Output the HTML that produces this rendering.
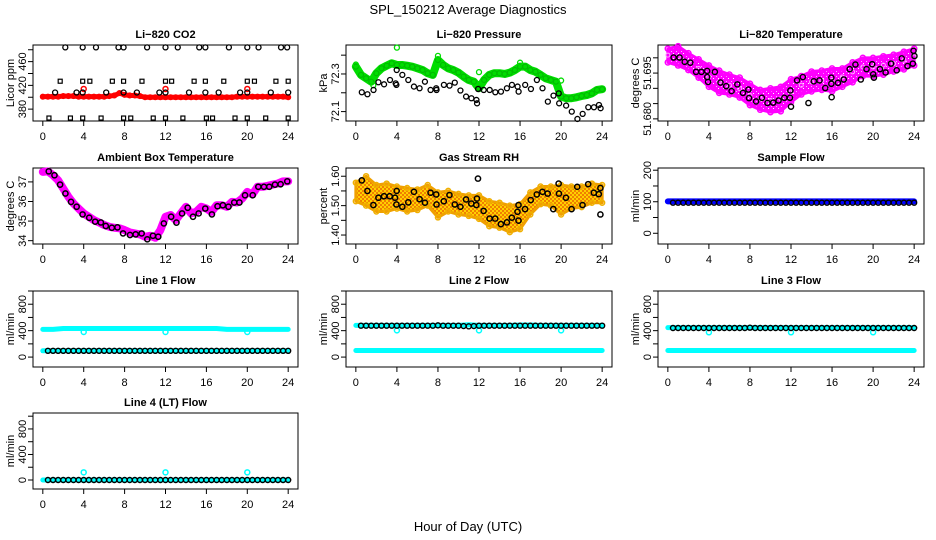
<!DOCTYPE html>
<html><head><meta charset="utf-8"><style>
html,body{margin:0;padding:0;background:#fff;}
svg{display:block;font-family:"Liberation Sans",sans-serif;}
</style></head><body>
<svg id="chart" width="936" height="540" viewBox="0 0 936 540" xmlns="http://www.w3.org/2000/svg">
<defs>
<pattern id="rhPat" width="4" height="4" patternUnits="userSpaceOnUse"><rect width="4" height="4" fill="#ffd000"/><rect x="0" y="0" width="2" height="2" fill="#f08000"/><rect x="2" y="2" width="2" height="2" fill="#f08000"/></pattern>
<pattern id="magPat" width="5" height="5" patternUnits="userSpaceOnUse"><rect width="5" height="5" fill="#ff00ff"/><rect x="1" y="1" width="1" height="1" fill="#ffb0ff"/><rect x="3" y="3" width="1" height="1" fill="#ffffff"/></pattern>
</defs>
<text x="468" y="14" text-anchor="middle" font-size="13">SPL_150212  Average Diagnostics</text>
<text x="468" y="531" text-anchor="middle" font-size="13">Hour of Day (UTC)</text>
</svg>
<script>
const HALF=[0,0.5,1,1.5,2,2.5,3,3.5,4,4.5,5,5.5,6,6.5,7,7.5,8,8.5,9,9.5,10,10.5,11,11.5,12,12.5,13,13.5,14,14.5,15,15.5,16,16.5,17,17.5,18,18.5,19,19.5,20,20.5,21,21.5,22,22.5,23,23.5,24];
const HOURS=[0,1,2,3,4,5,6,7,8,9,10,11,12,13,14,15,16,17,18,19,20,21,22,23,24];
const FLOWX=[0.5,1,1.5,2,2.5,3,3.5,4,4.5,5,5.5,6,6.5,7,7.5,8,8.5,9,9.5,10,10.5,11,11.5,12,12.5,13,13.5,14,14.5,15,15.5,16,16.5,17,17.5,18,18.5,19,19.5,20,20.5,21,21.5,22,22.5,23,23.5,24];
const xTicks=[0,4,8,12,16,20,24];

// Li-820 CO2
const co2Red=[401,401,401,401,402,402,402,401,401,401,401,401,401,402,403,407,404,403,403,402,400,400,400,400,400,400,400,400,400,400,400,400,400,400,400,400,400,400,401,401,401,401,401,401,401,401,401,401,400];
const co2RedOut=[[4,414],[12,414],[20,414]];
const co2TopX=[2.2,3.9,5.2,7.4,7.9,10.2,12.0,13.2,15.3,15.9,18.2,20.0,21.1,23.3,23.9];
const co2TopY=[484,484,484,484,484,484,484,484,484,484,484,484,484,484,484];
const co2MidX=[1.2,3.3,3.9,6.2,7.9,9.2,11.4,12.0,14.3,15.9,17.2,19.3,20.0,22.3,24.0];
const co2MidY=[408,408,408,408,408,408,408,408,408,408,408,408,408,408,408];
const co2SqX=[1.7,3.9,4.6,6.8,7.9,9.7,12.0,12.6,14.8,15.9,17.7,20.0,20.7,22.8,24.0];
const co2SqY=[427,427,427,427,427,427,427,427,427,427,427,427,427,427,427];
const co2LowX=[0.6,2.7,3.9,5.7,7.9,8.6,10.8,12.0,13.7,16.0,16.6,18.8,20.0,21.8,24.0];
const co2LowY=[365,365,365,365,365,365,365,365,365,365,365,365,365,365,365];

// Li-820 Pressure
const presGreen=[72.339,72.295,72.277,72.259,72.304,72.330,72.344,72.357,72.348,72.348,72.344,72.339,72.330,72.321,72.304,72.295,72.374,72.348,72.330,72.321,72.307,72.286,72.268,72.259,72.224,72.268,72.295,72.304,72.304,72.300,72.307,72.321,72.339,72.339,72.321,72.312,72.295,72.277,72.268,72.259,72.180,72.171,72.171,72.176,72.183,72.188,72.197,72.215,72.219];
const presGreenOut=[[0,72.35],[1.7,72.24],[4,72.44],[8,72.396],[12,72.31],[16,72.36],[20,72.265]];
const presBlack=[[0.58,72.203],[1.13,72.192],[1.72,72.215],[2.20,72.256],[2.75,72.245],[3.33,72.268],[3.88,72.250],[3.95,72.242],[3.98,72.321],[4.53,72.295],[5.11,72.268],[5.66,72.233],[6.21,72.224],[6.73,72.259],[7.28,72.215],[7.83,72.224],[7.86,72.215],[8.58,72.242],[9.13,72.238],[9.64,72.254],[10.19,72.212],[10.74,72.180],[11.26,72.171],[11.75,72.162],[11.81,72.144],[11.91,72.220],[12.46,72.215],[13.04,72.215],[13.59,72.203],[14.14,72.206],[14.72,72.224],[15.21,72.242],[15.76,72.233],[15.86,72.206],[16.50,72.242],[17.06,72.220],[17.64,72.268],[18.19,72.224],[18.71,72.153],[19.26,72.185],[19.77,72.197],[19.81,72.144],[20.49,72.132],[21.04,72.100],[21.59,72.061],[22.10,72.088],[22.65,72.123],[23.20,72.123],[23.69,72.135],[23.85,72.118]];

// Li-820 Temperature
const ltMid=[51.7009,51.7003,51.6987,51.6965,51.6937,51.6921,51.6910,51.6899,51.6877,51.6866,51.6860,51.6866,51.6888,51.6910,51.6921,51.6926,51.6926,51.6937,51.6954,51.6970,51.6970,51.6976,51.6981,51.6992,51.7003];
const ltHi=[51.7030,51.7038,51.7015,51.6995,51.6975,51.6958,51.6945,51.6935,51.6915,51.6895,51.6900,51.6905,51.6930,51.6940,51.6955,51.6958,51.6965,51.6965,51.6985,51.7000,51.7000,51.7005,51.7010,51.7020,51.7030];
const ltLo=[51.6985,51.6975,51.6960,51.6935,51.6905,51.6885,51.6880,51.6870,51.6845,51.6830,51.6822,51.6825,51.6855,51.6880,51.6890,51.6895,51.6890,51.6905,51.6920,51.6940,51.6940,51.6945,51.6955,51.6962,51.6975];
const ltBlack=[[0.56,51.7001],[1.14,51.7001],[1.64,51.6987],[2.19,51.6984],[2.75,51.6954],[3.27,51.6954],[3.83,51.6957],[3.83,51.6937],[3.92,51.6921],[4.58,51.6954],[5.13,51.6919],[5.69,51.6907],[6.21,51.6891],[6.77,51.6913],[7.32,51.6885],[7.85,51.6896],[7.91,51.6868],[8.60,51.6857],[9.16,51.6869],[9.71,51.6852],[10.27,51.6853],[10.79,51.6860],[11.35,51.6869],[11.90,51.6869],[11.94,51.6893],[12.00,51.6840],[12.59,51.6926],[13.15,51.6937],[13.70,51.6852],[14.22,51.6923],[14.78,51.6926],[15.34,51.6901],[15.93,51.6935],[15.93,51.6915],[15.96,51.6871],[16.58,51.6918],[17.14,51.6929],[17.72,51.6963],[18.28,51.6978],[18.80,51.6929],[19.36,51.6963],[19.91,51.6979],[20.01,51.6946],[20.08,51.6935],[20.67,51.6963],[21.22,51.6952],[21.75,51.6981],[22.30,51.6959],[22.79,51.6998],[23.35,51.6973],[23.87,51.6981],[23.94,51.7023],[24.03,51.7006]];

// Ambient Box Temperature
const ambMag=[37.51,37.54,37.34,37.08,36.66,36.24,35.90,35.64,35.39,35.22,35.05,34.93,34.80,34.71,34.66,34.63,34.54,34.42,34.37,34.32,34.20,34.25,34.15,34.54,35.22,35.31,35.05,35.39,35.73,35.39,35.47,35.73,35.64,35.47,35.81,35.81,35.73,35.98,35.95,36.15,36.49,36.36,36.75,36.75,36.80,36.86,36.92,37.03,37.03];
const ambBlack=[[0.58,37.54],[1.14,37.34],[1.69,36.86],[2.21,36.41],[2.76,35.98],[3.31,35.73],[3.89,35.34],[4.54,35.17],[5.12,34.97],[5.68,34.93],[6.16,34.75],[6.75,34.66],[7.30,34.68],[7.85,34.37],[8.53,34.29],[9.08,34.32],[9.67,34.37],[10.22,34.07],[10.77,34.25],[11.29,34.20],[11.84,34.88],[12.55,35.22],[13.07,34.92],[13.62,35.39],[14.17,35.68],[14.69,35.22],[15.24,35.39],[15.89,35.64],[16.54,35.34],[17.09,35.76],[17.61,35.81],[18.16,35.73],[18.72,35.95],[19.23,35.95],[19.78,36.32],[20.53,36.32],[21.08,36.75],[21.63,36.75],[22.15,36.75],[22.71,36.86],[23.26,36.88],[23.91,37.03]];

// Gas Stream RH
const rhMid=[1.547,1.558,1.536,1.536,1.524,1.519,1.519,1.536,1.507,1.519,1.507,1.502,1.496,1.473,1.468,1.456,1.462,1.507,1.536,1.530,1.536,1.530,1.530,1.547,1.541];
const rhHi=[1.578,1.600,1.570,1.575,1.565,1.560,1.555,1.570,1.545,1.550,1.540,1.535,1.535,1.515,1.510,1.500,1.505,1.545,1.565,1.565,1.570,1.565,1.565,1.575,1.570];
const rhLo=[1.515,1.500,1.480,1.480,1.490,1.480,1.485,1.500,1.460,1.480,1.470,1.465,1.455,1.430,1.425,1.410,1.420,1.470,1.505,1.500,1.470,1.490,1.495,1.510,1.510];
const rhBlack=[[0.58,1.586],[1.13,1.550],[1.71,1.502],[2.20,1.527],[2.75,1.532],[3.30,1.532],[3.82,1.527],[3.95,1.504],[3.98,1.550],[4.53,1.496],[5.11,1.511],[5.66,1.547],[6.21,1.522],[6.73,1.510],[7.28,1.544],[7.83,1.538],[7.86,1.504],[8.57,1.515],[9.12,1.536],[9.64,1.504],[10.19,1.496],[10.74,1.521],[11.25,1.507],[11.74,1.502],[11.80,1.524],[11.90,1.592],[12.45,1.482],[13.03,1.456],[13.58,1.456],[14.13,1.437],[14.72,1.443],[15.20,1.459],[15.75,1.479],[15.85,1.449],[15.85,1.502],[16.49,1.488],[17.04,1.519],[17.63,1.538],[18.18,1.547],[18.69,1.541],[19.24,1.488],[19.76,1.575],[19.79,1.541],[20.47,1.527],[21.02,1.488],[21.57,1.564],[22.09,1.502],[22.64,1.573],[23.19,1.544],[23.67,1.539],[23.83,1.560],[23.83,1.470]];

// Flows
const sampleBlue=[101,101,101,101,101,101,101,101,101,101,101,101,101,101,101,101,101,101,101,101,101,101,101,101,101];
const sampleBlack=[97,97,97,97,97,97,97,97,97,97,97,97,97,97,97,97,97,97,97,97,97,97,97,97,97,97,97,97,97,97,97,97,97,97,97,97,97,97,97,97,97,97,97,97,97,97,97,97];
const l1CyanHi=[420,420,432,432,432,432,432,432,432,432,432,432,432,432,432,432,432,432,420,420,420,420,420,420,420];
const l1CyanLo=[95,95,95,95,95,95,95,95,95,95,95,95,95,95,95,95,95,95,95,95,95,95,95,95,95];
const l1Dips=[[4,380],[12,380],[20,380]];
const l1Black=[95,95,95,95,95,95,95,95,95,95,95,95,95,95,95,95,95,95,95,95,95,95,95,95,95,95,95,95,95,95,95,95,95,95,95,95,95,95,95,95,95,95,95,95,95,95,95,95];
const l2CyanHi=[480,480,480,480,480,480,480,480,480,480,480,490,480,480,480,480,485,485,480,480,480,480,480,480,480];
const l2CyanLo=[100,100,100,100,100,100,100,100,100,100,100,100,100,100,100,100,100,100,100,100,100,100,100,100,100];
const l2Dips=[[4,405],[12,405],[20,405]];
const l2Black=[475,475,475,475,475,475,475,475,475,475,475,475,475,475,475,480,475,475,475,475,470,465,470,475,475,475,475,475,475,475,475,475,475,475,475,475,475,475,475,475,475,475,475,475,475,475,475,475];
const l3CyanHi=[445,445,445,445,445,445,445,445,445,445,445,445,445,445,445,445,445,445,445,445,445,445,445,445,445];
const l3CyanLo=[100,100,100,100,100,100,100,100,100,100,100,100,100,100,100,100,100,100,100,100,100,100,100,100,100];
const l3Dips=[[4,375],[12,375],[20,375]];
const l3Black=[440,440,440,440,440,440,440,440,440,440,440,440,440,440,440,445,440,440,440,440,440,440,440,440,440,440,440,440,440,440,440,440,440,440,440,440,440,440,440,440,440,440,440,440,440,440,440,440];
const l4Cyan=[0,0,0,0,0,0,0,0,0,0,0,0,0,0,0,0,0,0,0,0,0,0,0,0,0];
const l4Spikes=[[4,120],[12,120],[20,120]];
const l4Black=[0,0,0,0,0,0,0,0,0,0,0,0,0,0,0,0,0,0,0,0,0,0,0,0,0,0,0,0,0,0,0,0,0,0,0,0,0,0,0,0,0,0,0,0,0,0,0,0];

const flowTicks=[0,200,400,600,800,1000];
const flowLabels=['0','400','800'];

const NS='http://www.w3.org/2000/svg';
const svg=document.getElementById('chart');
function mk(tag,attrs,parent){const e=document.createElementNS(NS,tag);for(const k in attrs)e.setAttribute(k,attrs[k]);(parent||svg).appendChild(e);return e;}

const COLS=[[33,298],[346,612],[658,924]];
const ROWS=[[45,121],[168,244],[291,367],[413,489]];

function panel(name,c,r,title,ylab,yb,yt,ticks,labels){
  const [L,R]=COLS[c],[T,B]=ROWS[r];
  const g=mk('g',{});
  
  
  const sx=h=>L+(h+0.96)/25.92*(R-L);
  const sy=v=>B-(v-yb)/(yt-yb)*(B-T);
  const box=mk('rect',{x:L,y:T,width:R-L,height:B-T,fill:'none',stroke:'#000','stroke-width':1},g);
  
  
  const t=mk('text',{x:(L+R)/2,y:T-7,'text-anchor':'middle','font-size':11,'font-weight':'bold'},g);
  t.textContent=title;
  
  
  const yl=mk('text',{x:0,y:0,'text-anchor':'middle','font-size':11,transform:`translate(${L-19},${(T+B)/2}) rotate(-90)`},g);
  yl.textContent=ylab;
  
  
  const xa=mk('g',{},g);
  
  
  xTicks.forEach(h=>{
    mk('line',{x1:sx(h),x2:sx(h),y1:B,y2:B+5,stroke:'#000'},xa);
    const tl=mk('text',{x:sx(h),y:B+19,'text-anchor':'middle','font-size':11},xa);
    tl.textContent=String(h);
    
    
  });
  const ya=mk('g',{},g);
  
  
  ticks.forEach(v=>{mk('line',{x1:L-5,x2:L,y1:sy(v),y2:sy(v),stroke:'#000'},ya);});
  labels.forEach(s=>{
    const tl=mk('text',{x:0,y:0,'text-anchor':'middle','font-size':11,transform:`translate(${L-7},${sy(parseFloat(s))}) rotate(-90)`},ya);
    tl.textContent=s;
    
    
  });
  const marks=mk('g',{},g);
  
  
  return {sx,sy,g:marks};
}
function circles(p,xs,ys,color,r,w,nm){
  const g=mk('g',{},p.g);
  
  
  xs.forEach((x,i)=>{mk('circle',{cx:p.sx(x),cy:p.sy(ys[i]),r:r,fill:'none',stroke:color,'stroke-width':w},g);});
}
function pts(p,arr,color,r,w,nm){circles(p,arr.map(a=>a[0]),arr.map(a=>a[1]),color,r,w,nm);}
function squares(p,xs,ys,color,nm){
  const g=mk('g',{},p.g);
  
  
  xs.forEach((x,i)=>{mk('rect',{x:p.sx(x)-2,y:p.sy(ys[i])-2,width:4,height:4,fill:'none',stroke:color,'stroke-width':1.2},g);});
}
function band(p,xs,ys,color,w,nm){
  const l=mk('polyline',{points:xs.map((x,i)=>p.sx(x)+','+p.sy(ys[i])).join(' '),fill:'none',stroke:color,'stroke-width':w,'stroke-linejoin':'round','stroke-linecap':'round'},p.g);
  
  
}
function cloud(p,xs,hi,lo,fill,stroke,nm){
  const up=xs.map((x,i)=>p.sx(x)+','+p.sy(hi[i]));
  const dn=xs.map((x,i)=>p.sx(x)+','+p.sy(lo[i])).reverse();
  const pg=mk('polygon',{points:up.concat(dn).join(' '),fill:fill,stroke:stroke,'stroke-width':3,'stroke-linejoin':'round'},p.g);
  
  
}

// Panel 1
let p=panel('co2',0,0,'Li\u2212820 CO2','Licor ppm',360,488,[380,400,420,440,460,480],['380','420','460']);
band(p,HALF,co2Red,'#ff0000',5,'co2-red-series');
circles(p,HALF,co2Red,'#ff0000',2.3,1.5,'co2-red-points');
pts(p,co2RedOut,'#ff0000',2.5,1.5,'co2-red-outliers');
circles(p,co2TopX,co2TopY,'#000',2.5,1.3,'co2-black-top');
circles(p,co2MidX,co2MidY,'#000',2.5,1.3,'co2-black-mid');
squares(p,co2SqX,co2SqY,'#000','co2-black-squares');
squares(p,co2LowX,co2LowY,'#000','co2-black-low');

// Panel 2
p=panel('pressure',1,0,'Li\u2212820 Pressure','kPa',72.05,72.454,[72.1,72.2,72.3,72.4],['72.1','72.3']);
band(p,HALF,presGreen,'#00dd00',8,'pressure-green-series');
circles(p,HALF,presGreen,'#00bb00',2.5,1.2,'pressure-green-points');
pts(p,presGreenOut,'#00dd00',2.5,1.3,'pressure-green-outliers');
pts(p,presBlack,'#000',2.5,1.3,'pressure-black-points');

// Panel 3
p=panel('li-temp',2,0,'Li\u2212820 Temperature','degrees C',51.6793,51.7042,[51.680,51.685,51.690,51.695,51.700],['51.680','51.695']);
cloud(p,HOURS,ltHi,ltLo,'url(#magPat)','#ff00ff','li-temp-magenta-cloud');
circles(p,HOURS,ltHi,'#ff00ff',2.6,1.5,'li-temp-magenta-hi');
circles(p,HOURS,ltLo,'#ff00ff',2.6,1.5,'li-temp-magenta-lo');
circles(p,HOURS,ltMid,'#ffaaff',2,1,'li-temp-magenta-mid');
pts(p,ltBlack,'#000',2.6,1.4,'li-temp-black-points');

// Panel 4
p=panel('ambient',0,1,'Ambient Box Temperature','degrees C',33.83,37.71,[34,35,36,37],['34','35','36','37']);
band(p,HALF,ambMag,'#ff00ff',8,'ambient-magenta-series');
pts(p,ambBlack,'#000',2.6,1.5,'ambient-black-points');

// Panel 5
p=panel('rh',1,1,'Gas Stream RH','percent',1.3695,1.628,[1.40,1.45,1.50,1.55,1.60],['1.40','1.50','1.60']);
cloud(p,HOURS,rhHi,rhLo,'url(#rhPat)','#f0a000','rh-orange-cloud');
circles(p,HOURS,rhHi,'#f0b000',2.5,1.5,'rh-yellow-hi');
circles(p,HOURS,rhLo,'#f0b000',2.5,1.5,'rh-yellow-lo');
pts(p,rhBlack,'#000',2.6,1.5,'rh-black-points');

// Panel 6
p=panel('sample-flow',2,1,'Sample Flow','ml/min',-34,207,[0,50,100,150,200],['0','100','200']);
band(p,HOURS,sampleBlue,'#0000ff',6,'sample-blue-series');
circles(p,FLOWX,sampleBlack,'#000',2.5,1.4,'sample-black-points');

// Panel 7
p=panel('line1',0,2,'Line 1 Flow','ml/min',-150,1000,flowTicks,flowLabels);
band(p,HOURS,l1CyanHi,'#00ffff',5,'line1-cyan-high');
band(p,HOURS,l1CyanLo,'#00ffff',5,'line1-cyan-low');
pts(p,l1Dips,'#00ffff',2.5,1.5,'line1-cyan-dips');
circles(p,FLOWX,l1Black,'#000',2.5,1.4,'line1-black-points');

// Panel 8
p=panel('line2',1,2,'Line 2 Flow','ml/min',-150,1000,flowTicks,flowLabels);
band(p,HOURS,l2CyanHi,'#00ffff',5,'line2-cyan-high');
band(p,HOURS,l2CyanLo,'#00ffff',5,'line2-cyan-low');
pts(p,l2Dips,'#00ffff',2.5,1.5,'line2-cyan-dips');
circles(p,FLOWX,l2Black,'#000',2.5,1.4,'line2-black-points');

// Panel 9
p=panel('line3',2,2,'Line 3 Flow','ml/min',-150,1000,flowTicks,flowLabels);
band(p,HOURS,l3CyanHi,'#00ffff',5,'line3-cyan-high');
band(p,HOURS,l3CyanLo,'#00ffff',5,'line3-cyan-low');
pts(p,l3Dips,'#00ffff',2.5,1.5,'line3-cyan-dips');
circles(p,FLOWX,l3Black,'#000',2.5,1.4,'line3-black-points');

// Panel 10
p=panel('line4',0,3,'Line 4 (LT) Flow','ml/min',-141,1050,flowTicks,flowLabels);
band(p,HOURS,l4Cyan,'#00ffff',5,'line4-cyan-series');
pts(p,l4Spikes,'#00ffff',2.5,1.5,'line4-cyan-spikes');
circles(p,FLOWX,l4Black,'#000',2.5,1.4,'line4-black-points');
</script>
</body></html>
